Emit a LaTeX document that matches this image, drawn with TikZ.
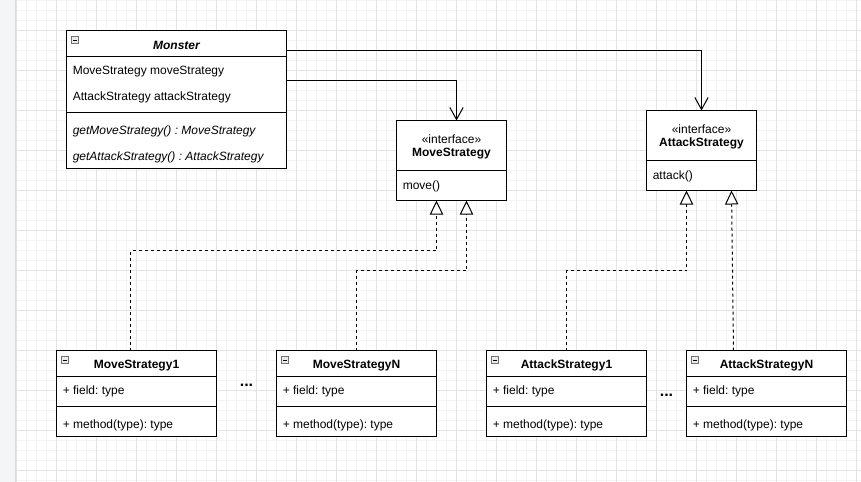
\documentclass[tikz,border=0pt]{standalone}
\usepackage{fontspec}
\setmainfont{Liberation Sans}
\usetikzlibrary{arrows.meta,fit,calc}
\frenchspacing
\definecolor{gridminor}{HTML}{F4F4F4}
\definecolor{gridmajor}{HTML}{E3E3E3}
\definecolor{sidebar}{HTML}{F4F5F7}
\definecolor{sideline}{HTML}{DADCE0}
\tikzset{
  px/.style={font=\fontsize{9}{11}\selectfont},
  umlbox/.style={draw, line width=0.75pt, fill=white, inner sep=0pt, outer sep=0pt},
  sep/.style={line width=0.75pt},
  txt/.style={px, inner sep=0pt, anchor=west, yshift=-1.2pt},
  ctxt/.style={px, inner sep=0pt, anchor=center, yshift=-1.2pt},
  assoc/.style={line width=0.75pt, -{Straight Barb[length=9pt,width=10pt,line width=0.75pt]}},
  realize/.style={line width=0.75pt, dash pattern=on 2.25pt off 2.25pt, -{Triangle[length=10.5pt,width=10pt,fill=white,line width=0.75pt,sep=0pt]}},
  collapse/.style={draw=black!55, fill=black!8, line width=0.5pt},
}
\newcommand{\collapseicon}[2]{%
  \draw[collapse] (#1+5,#2+6) rectangle (#1+12,#2+13);
  \draw[line width=0.6pt] (#1+6.5,#2+9.5) -- (#1+10.5,#2+9.5);}
\begin{document}
\begin{tikzpicture}[x=0.75pt,y=-0.75pt]
\useasboundingbox (0,0) rectangle (861,482);
% background
\fill[white] (0,0) rectangle (861,482);
\foreach \gx in {16.5,26.5,...,861} \draw[gridminor,line width=0.75pt] (\gx,0) -- (\gx,482);
\foreach \gy in {0,10,...,482} \draw[gridminor,line width=0.75pt] (16,\gy) -- (861,\gy);
\foreach \gx in {16.5,56.5,...,861} \draw[gridmajor,line width=0.75pt] (\gx,0) -- (\gx,482);
\foreach \gy in {30,70,...,482} \draw[gridmajor,line width=0.75pt] (16,\gy) -- (861,\gy);
\fill[sidebar] (0,0) rectangle (15.5,482);
\draw[sideline,line width=0.75pt] (15.5,0) -- (15.5,482);

% Monster
\node[umlbox, fit={(66.5,30.5) (286.5,168.5)}] (monster) {};
\draw[sep] (66.5,56.5) -- (286.5,56.5);
\draw[sep] (66.5,112.5) -- (286.5,112.5);
\collapseicon{66.5}{30.5}
\node[ctxt] (monstertitle) at (176.5,43.5) {\bfseries\itshape Monster};
\node[txt] (mf1) at (72.5,69.5) {MoveStrategy moveStrategy};
\node[txt] (mf2) at (72.5,95.5) {AttackStrategy attackStrategy};
\node[txt] (mm1) at (72.5,129.5) {\itshape getMoveStrategy() : MoveStrategy};
\node[txt] (mm2) at (72.5,155.5) {\itshape getAttackStrategy() : AttackStrategy};

% MoveStrategy interface
\node[umlbox, fit={(396.5,120.5) (506.5,200.5)}] (move) {};
\draw[sep] (396.5,170.5) -- (506.5,170.5);
\node[ctxt] (movest) at (451.5,137.5) {«interface»};
\node[ctxt] (movename) at (451.5,151.5) {\bfseries MoveStrategy};
\node[txt] (movem) at (402.5,184.5) {move()};

% AttackStrategy interface
\node[umlbox, fit={(646.5,110.5) (756.5,190.5)}] (attack) {};
\draw[sep] (646.5,160.5) -- (756.5,160.5);
\node[ctxt] (attackst) at (701.5,127.5) {«interface»};
\node[ctxt] (attackname) at (701.5,141.5) {\bfseries AttackStrategy};
\node[txt] (attackm) at (652.5,174.5) {attack()};

% concrete classes
\foreach \nm/\lx/\title in {ms1/56.5/MoveStrategy1, msN/276.5/MoveStrategyN, as1/486.5/AttackStrategy1, asN/686.5/AttackStrategyN}{
  \node[umlbox, fit={(\lx,350.5) (\lx+160,436.5)}] (\nm) {};
  \draw[sep] (\lx,376.5) -- (\lx+160,376.5);
  \draw[sep] (\lx,406.5) -- (\lx+160,406.5);
  \collapseicon{\lx}{350.5}
  \node[ctxt] (\nm-title) at (\lx+80,363.5) {\bfseries \title};
  \node[txt] (\nm-field) at (\lx+6,389.5) {+ field: type};
  \node[txt] (\nm-method) at (\lx+6,423.5) {+ method(type): type};
}
\node[inner sep=0pt, anchor=base, font=\fontsize{12}{14}\selectfont\bfseries] (dots1) at (246.5,386) {...};
\node[inner sep=0pt, anchor=base, font=\fontsize{12}{14}\selectfont\bfseries] (dots2) at (666.5,396) {...};

% associations
\draw[assoc] ($(monster.north east)+(0,20)$) -| (attack.north);
\draw[assoc] ($(monster.north east)+(0,50)$) -| ($(move.north)+(5,0)$);

% realizations
\draw[realize] ($(ms1.north)+(-6,0)$) |- ($(move.south)+(-15,50)$) -- ($(move.south)+(-15,0)$);
\draw[realize] (msN.north) |- ($(move.south)+(15,70)$) -- ($(move.south)+(15,0)$);
\draw[realize] (as1.north) |- ($(attack.south)+(-15,80)$) -- ($(attack.south)+(-15,0)$);
\draw[realize] ($(asN.north)+(-33,0)$) -- ($(attack.south)+(30,0)$);
\end{tikzpicture}
\end{document}
